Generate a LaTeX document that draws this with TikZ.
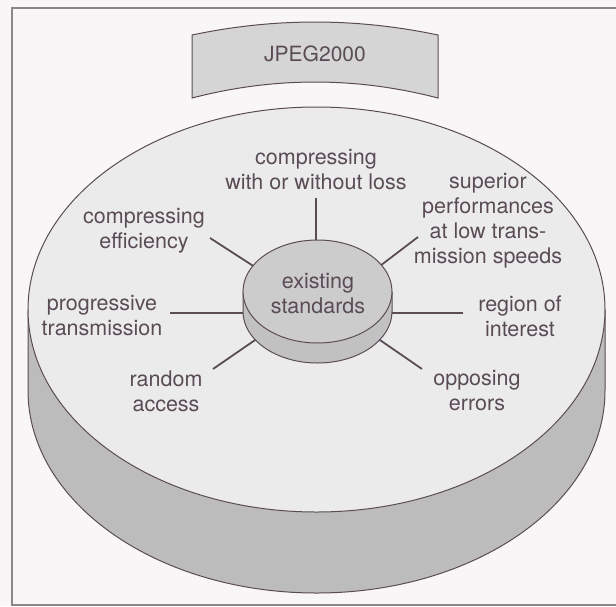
\documentclass[tikz,border=0pt]{standalone}
\usepackage{fontspec}
\setmainfont{TeX Gyre Heros}
\definecolor{ink}{HTML}{5A4C55}
\definecolor{paper}{HTML}{F8F6F7}
\definecolor{topfill}{HTML}{ECEBEC}
\definecolor{sidefill}{HTML}{BDBCBD}
\definecolor{bannerfill}{HTML}{D6D5D6}
\definecolor{coretop}{HTML}{CDCCCD}
\definecolor{coreside}{HTML}{C2C1C2}
\definecolor{framecol}{HTML}{8E848B}
\tikzset{
  lbl/.style={align=center, text=ink, font=\fontsize{21.5}{25}\selectfont, inner sep=0pt},
  conn/.style={draw=ink, line width=1.8pt},
  outl/.style={draw=ink, line width=1pt},
}
\begin{document}
\begin{tikzpicture}[x=1pt, y=-1pt]
\fill[paper] (0,0) rectangle (616,606);
\useasboundingbox (0,0) rectangle (616,606);
% frame
\draw[framecol, line width=1.4pt] (616,8) -- (12,8) -- (12,605) -- (616,605);
% banner
\draw[outl, fill=bannerfill] (192,35) .. controls (274,17.7) and (356,17.7) .. (438,35)
  -- (438,98) .. controls (356,76.7) and (274,76.7) .. (192,98) -- cycle;
\node[lbl, font=\fontsize{21}{25}\selectfont] (title) at (315,54) {JPEG2000};
% big cylinder
\fill[sidefill] (28,309.5) -- (28,390.5) arc[start angle=180, end angle=360, x radius=288.5pt, y radius=202.5pt] -- (605,309.5) -- cycle;
\draw[outl] (28,309.5) -- (28,390.5) arc[start angle=180, end angle=360, x radius=288.5pt, y radius=202.5pt] -- (605,309.5);
\draw[outl, fill=topfill] (316.5,309.5) ellipse[x radius=288.5pt, y radius=202.5pt];
% labels
\node[lbl] (loss) at (316,170) {compressing\\with or without loss};
\node[lbl] (eff) at (144,231) {compressing\\efficiency};
\node[lbl] (sup) at (488,221) {superior\\performances\\at low trans-\\mission speeds};
\node[lbl] (prog) at (102,316) {progressive\\transmission};
\node[lbl] (reg) at (520,316) {region of\\interest};
\node[lbl] (rand) at (166,391) {random\\access};
\node[lbl] (opp) at (477,391) {opposing\\errors};
% connector end points
\coordinate (aLoss) at (316,198); \coordinate (bLoss) at (316,250);
\coordinate (aEff) at (210,238);  \coordinate (bEff) at (258,269);
\coordinate (aSup) at (418,237);  \coordinate (bSup) at (376,269);
\coordinate (aProg) at (170,313); \coordinate (bProg) at (250,313);
\coordinate (aReg) at (463,313);  \coordinate (bReg) at (385,313);
\coordinate (aRand) at (213,369); \coordinate (bRand) at (258,338);
\coordinate (aOpp) at (422,369);  \coordinate (bOpp) at (377,338);
\draw[conn] (aLoss) -- (bLoss);
\draw[conn] (aEff) -- (bEff);
\draw[conn] (aSup) -- (bSup);
\draw[conn] (aProg) -- (bProg);
\draw[conn] (aReg) -- (bReg);
\draw[conn] (aRand) -- (bRand);
\draw[conn] (aOpp) -- (bOpp);
% inner cylinder
\fill[coreside] (243,291.5) -- (243,311.5) arc[start angle=180, end angle=360, x radius=74.5pt, y radius=51.5pt] -- (392,291.5) -- cycle;
\draw[outl] (243,291.5) -- (243,311.5) arc[start angle=180, end angle=360, x radius=74.5pt, y radius=51.5pt] -- (392,291.5);
\draw[outl, fill=coretop] (317.5,291.5) ellipse[x radius=74.5pt, y radius=51.5pt];
\node[lbl] (core) at (318,294) {existing\\standards};
\end{tikzpicture}
\end{document}
